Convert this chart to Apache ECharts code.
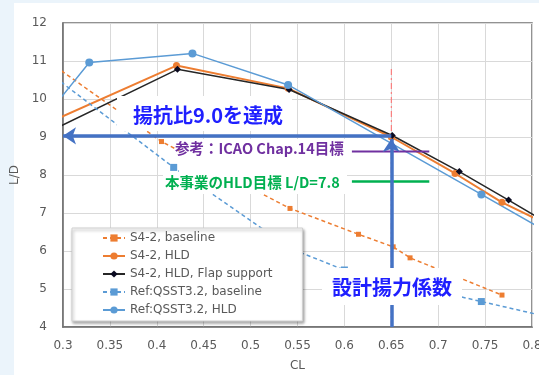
<!DOCTYPE html>
<html><head><meta charset="utf-8">
<script src="https://cdn.jsdelivr.net/npm/echarts@6/dist/echarts.min.js"></script>
<style>
html,body{margin:0;padding:0;width:539px;height:375px;overflow:hidden;background:#ebf4fb;}
#panel{position:absolute;left:14px;top:3px;width:525px;height:372px;background:#fff;}
#chart{position:absolute;left:0;top:0;width:539px;height:375px;}
</style></head><body>
<div id="panel"></div><div id="chart"></div>
<script>
// ---- data ----
const seriesNames = ['S4-2, baseline', 'S4-2, HLD', 'S4-2, HLD, Flap support', 'Ref:QSST3.2, baseline', 'Ref:QSST3.2, HLD'];

const clS4Base = [0.28, 0.405, 0.542, 0.615, 0.652, 0.670, 0.768];
const ldS4Base = [11.06, 8.88, 7.12, 6.44, 6.11, 5.82, 4.84];

const clS4Hld = [0.28, 0.421, 0.540, 0.650, 0.718, 0.768, 0.82];
const ldS4Hld = [9.33, 10.88, 10.28, 9.00, 8.04, 7.28, 6.66];

const clS4Flap = [0.28, 0.422, 0.541, 0.651, 0.7225, 0.775, 0.82];
const ldS4Flap = [9.08, 10.78, 10.25, 9.04, 8.09, 7.34, 6.68];

const clRefBase = [0.28, 0.418, 0.544, 0.600, 0.746, 0.82];
const ldRefBase = [10.78, 8.20, 6.05, 5.50, 4.67, 4.25];

const clRefHld = [0.28, 0.328, 0.438, 0.540, 0.746, 0.82];
const ldRefHld = [9.49, 10.96, 11.20, 10.37, 7.49, 6.45];

// annotation values
const designCL = 0.65;
const achievedLD = 9.03;
const arrowTipLD = 8.95;
const redLineLD = [4, 10.82];
const targetLineCL = [0.608, 0.6905];
const icaoLD = 8.62;
const hldTargetLD = 7.83;

const xTickLabels = ['0.3','0.35','0.4','0.45','0.5','0.55','0.6','0.65','0.7','0.75','0.8'];
const yTickLabels = ['4','5','6','7','8','9','10','11','12'];

const pairs = (xs, ys) => xs.map((x, i) => [x, ys[i]]);

const ORANGE = '#ED7D31', BLUE = '#5B9BD5', DARK = '#262626', ARROW = '#4472C4';
const gray = '#595959';

const chart = echarts.init(document.getElementById('chart'), null, {renderer: 'canvas'});
const option = {
  animation: false,
  grid: {left: 63, top: 23, right: 7, bottom: 48, outerBoundsMode: 'none', containLabel: false,
    show: true, borderColor: '#6f6f6f', borderWidth: 1.5, backgroundColor: 'transparent'},
  xAxis: {
    type: 'value', min: 0.3, max: 0.8, interval: 0.05,
    axisLine: {show: true, lineStyle: {color: '#6f6f6f', width: 1.5}},
    axisTick: {show: false},
    splitLine: {show: true, lineStyle: {color: '#d9d9d9', width: 1}},
    axisLabel: {color: gray, fontSize: 12, fontFamily: 'DejaVu Sans', margin: 13,
      formatter: v => xTickLabels[Math.round((v - 0.3) / 0.05)]},
    name: 'CL', nameLocation: 'middle', nameGap: 33,
    nameTextStyle: {color: gray, fontSize: 12, fontFamily: 'DejaVu Sans'}
  },
  yAxis: {
    type: 'value', min: 4, max: 12, interval: 1,
    axisLine: {show: true, lineStyle: {color: '#6f6f6f', width: 1.5}},
    axisTick: {show: false},
    splitLine: {show: true, lineStyle: {color: '#d9d9d9', width: 1}},
    axisLabel: {color: gray, fontSize: 12, fontFamily: 'DejaVu Sans', margin: 16,
      formatter: v => yTickLabels[Math.round(v - 4)]},
    name: 'L/D', nameLocation: 'middle', nameGap: 38,
    nameTextStyle: {color: gray, fontSize: 12, fontFamily: 'DejaVu Sans'}
  },
  legend: {
    orient: 'vertical', left: 72, top: 228,
    data: seriesNames,
    backgroundColor: '#fff', borderColor: '#d0d0d0', borderWidth: 1,
    shadowColor: 'rgba(0,0,0,0.35)', shadowBlur: 3, shadowOffsetX: 1, shadowOffsetY: 2,
    padding: [4, 30, 5, 30], itemGap: 6, itemWidth: 22, itemHeight: 9,
    textStyle: {fontFamily: 'DejaVu Sans', fontSize: 12, color: gray},
    selectedMode: false
  },
  series: [
    {type: 'line', data: pairs([designCL, designCL], redLineLD), symbol: 'none', silent: true, z: 1,
      lineStyle: {color: '#ff6b6b', width: 1, type: [6, 3, 2, 3]}},
    {name: seriesNames[0], type: 'line', data: pairs(clS4Base, ldS4Base), symbol: 'rect', symbolSize: 5,
      lineStyle: {color: ORANGE, width: 1.5, type: [4, 3]}, itemStyle: {color: ORANGE}, clip: true, z: 3},
    {name: seriesNames[1], type: 'line', data: pairs(clS4Hld, ldS4Hld), symbol: 'circle', symbolSize: 7,
      lineStyle: {color: ORANGE, width: 2}, itemStyle: {color: ORANGE}, clip: true, z: 3},
    {name: seriesNames[2], type: 'line', data: pairs(clS4Flap, ldS4Flap), symbol: 'diamond', symbolSize: 7,
      lineStyle: {color: DARK, width: 1.5}, itemStyle: {color: '#0a0a20'}, clip: true, z: 3},
    {name: seriesNames[3], type: 'line', data: pairs(clRefBase, ldRefBase), symbol: 'rect', symbolSize: 7,
      lineStyle: {color: BLUE, width: 1.5, type: [4, 3]}, itemStyle: {color: BLUE}, clip: true, z: 3},
    {name: seriesNames[4], type: 'line', data: pairs(clRefHld, ldRefHld), symbol: 'circle', symbolSize: 8,
      lineStyle: {color: BLUE, width: 1.5}, itemStyle: {color: BLUE}, clip: true, z: 3},
    {type: 'line', data: pairs(targetLineCL, [icaoLD, icaoLD]), symbol: 'none', silent: true, z: 4,
      lineStyle: {color: '#7030A0', width: 2}},
    {type: 'line', data: pairs(targetLineCL, [hldTargetLD, hldTargetLD]), symbol: 'none', silent: true, z: 4,
      lineStyle: {color: '#00B050', width: 2.5}},
    {type: 'line', data: [], z: 5, silent: true,
      markLine: {silent: true, symbol: ['none', 'arrow'], symbolSize: [13, 13], animation: false,
        label: {show: false}, emphasis: {disabled: true},
        lineStyle: {color: ARROW, width: 3.5, type: 'solid'},
        data: [
          [{coord: [designCL, achievedLD]}, {coord: [0.3, achievedLD]}],
          [{coord: [designCL, 4]}, {coord: [designCL, arrowTipLD]}]
        ]}}
  ],
  graphic: [
    {type: 'rect', silent: true, z: 50, shape: {x: 117, y: 96, width: 175, height: 35}, style: {fill: '#fff'}},
    {type: 'rect', silent: true, z: 50, shape: {x: 179, y: 139, width: 168, height: 33}, style: {fill: '#fff'}},
    {type: 'rect', silent: true, z: 50, shape: {x: 163, y: 172, width: 184, height: 22}, style: {fill: '#fff'}},
    {type: 'rect', silent: true, z: 50, shape: {x: 322, y: 268, width: 140, height: 37}, style: {fill: '#fff'}},
    {type: 'text', silent: true, z: 51, x: 133, y: 115,
      style: {text: '揚抗比9.0を達成', font: 'bold 20px "Noto Sans CJK JP"', fill: '#1f1fff', verticalAlign: 'middle'}},
    {type: 'text', silent: true, z: 51, x: 175, y: 148,
      style: {text: '参考：ICAO Chap.14目標', font: 'bold 14.5px "Noto Sans CJK JP"', fill: '#7030A0', verticalAlign: 'middle'}},
    {type: 'text', silent: true, z: 51, x: 165, y: 182,
      style: {text: '本事業のHLD目標 L/D=7.8', font: 'bold 14.5px "Noto Sans CJK JP"', fill: '#00B050', verticalAlign: 'middle'}},
    {type: 'text', silent: true, z: 51, x: 332, y: 287,
      style: {text: '設計揚力係数', font: 'bold 20px "Noto Sans CJK JP"', fill: '#1f1fff', verticalAlign: 'middle'}}
  ]
};
chart.setOption(option);
</script>
</body></html>
